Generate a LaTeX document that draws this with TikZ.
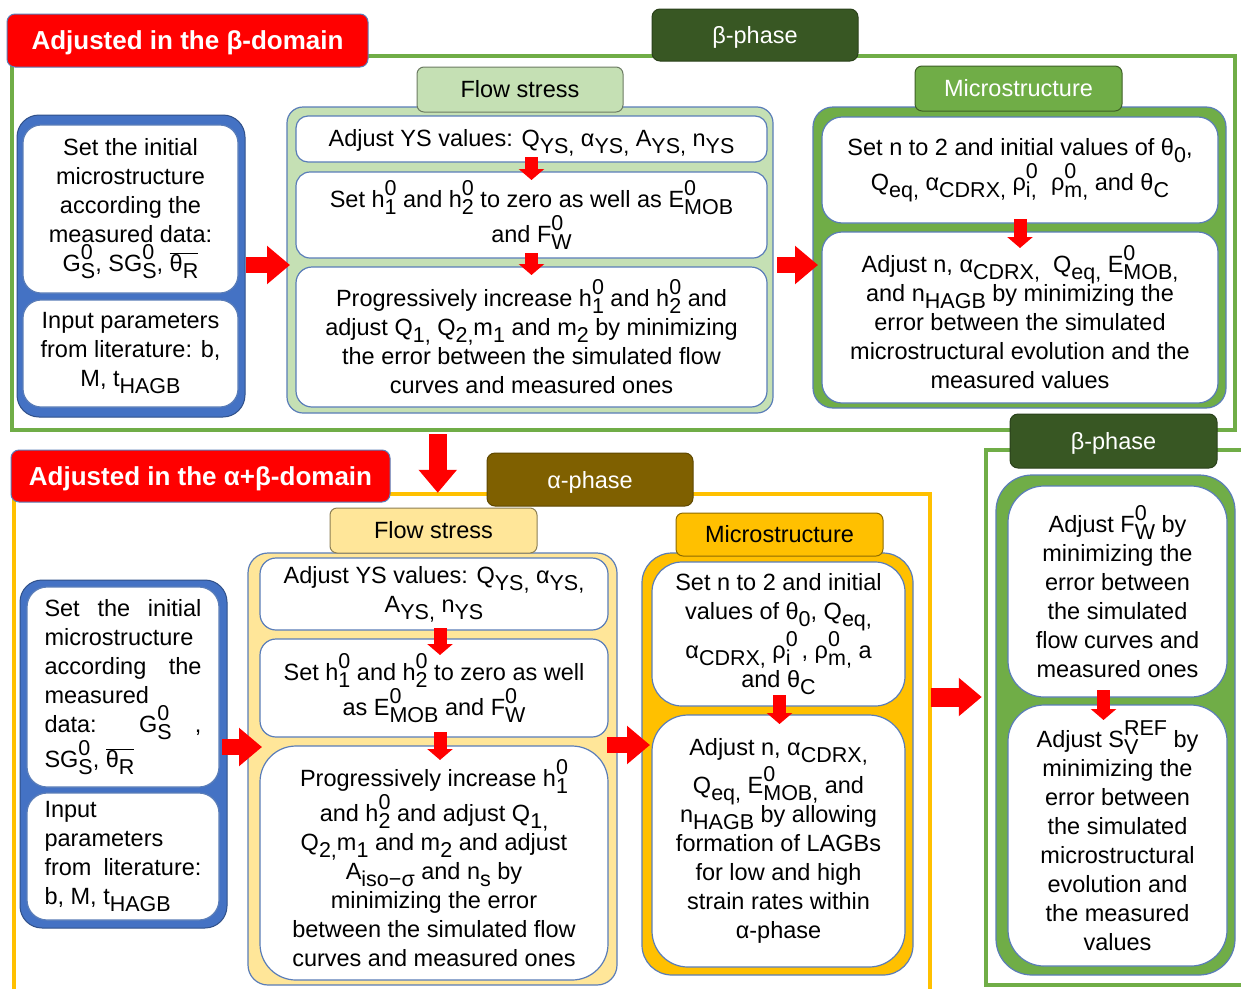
\documentclass[tikz,border=0pt]{standalone}
\usepackage{fontspec}
\setmainfont{Liberation Sans}
\usetikzlibrary{arrows.meta,calc}

\definecolor{xred}{HTML}{FF0000}
\definecolor{gframe}{HTML}{70AD47}
\definecolor{dgreen}{HTML}{385723}
\definecolor{lgreen}{HTML}{C5E0B4}
\definecolor{xblue}{HTML}{4472C4}
\definecolor{brownx}{HTML}{7F6000}
\definecolor{orangex}{HTML}{FFC000}
\definecolor{lyellow}{HTML}{FFE699}
\definecolor{edgeblue}{HTML}{5A7DB8}

% lowered / raised indices and stacked pairs
\newcommand\Lo[1]{\raisebox{-7pt}{\fontsize{21.5}{21.5}\selectfont #1}}
\newcommand\Hi[1]{\raisebox{12pt}{\fontsize{21.5}{21.5}\selectfont #1}}
\newsavebox\hibox
\newsavebox\lobox
\newcommand\HL[2]{\sbox\hibox{\Hi{#1}}\sbox\lobox{\Lo{#2}}%
  \ifdim\wd\hibox>\wd\lobox\rlap{\usebox\lobox}\usebox\hibox
  \else\rlap{\usebox\hibox}\usebox\lobox\fi}
\newcommand\thR{$\overline{\hbox{θ\Lo{R}}}$}

% a box given by its corners (x1,y1) (x2,y2): name, style, corners, text
\newcommand\bx[7]{%
  \pgfmathsetmacro\bxw{#5-#3}\pgfmathsetmacro\bxh{#6-#4}%
  \node[#2, minimum width=\bxw pt, minimum height=\bxh pt]
    (#1) at ({(#3+#5)/2},{(#4+#6)/2}) {#7};}

\tikzset{
  base/.style={inner sep=0pt, outer sep=0pt, align=center,
    font=\fontsize{23.5}{29}\selectfont},
  frame/.style={inner sep=0pt, draw=#1, line width=4.5pt},
  titlebox/.style={base, fill=xred, draw=edgeblue, line width=1pt,
    rounded corners=8pt, text=white, text height=22pt, text depth=4pt,
    font=\fontsize{26}{30}\selectfont\bfseries},
  phase/.style={base, fill=#1, draw=#1!75!black, line width=1pt,
    rounded corners=8pt, text=white, text height=20pt, text depth=3pt},
  lab/.style={base, fill=#1, draw=#1!55!black, line width=1pt, rounded corners=7pt},
  cont/.style 2 args={base, fill=#1, draw=edgeblue, line width=1.2pt, rounded corners=#2},
  bluebox/.style={base, fill=xblue, draw=xblue!70!black, line width=1pt,
    rounded corners=22pt},
  wbox/.style={base, fill=white, draw=edgeblue, line width=1.2pt, rounded corners=#1},
  wbox/.default=14pt,
  bigarrow/.style={draw=xred, line width=#1, -{Triangle[width=37pt, length=23pt]}},
  bigarrow/.default=16pt,
  smallarrow/.style={draw=xred, line width=13pt, -{Triangle[width=25pt, length=11pt]}},
}

\begin{document}
\begin{tikzpicture}[x={(1pt,0)}, y={(0,-1pt)}]
\useasboundingbox (0,0) rectangle (1241,988);
\fill[white] (0,0) rectangle (1241,988);

% domain frames
\bx{upframe}{frame=gframe}{12}{56}{1235}{430}{}
\bx{abframe}{frame=orangex}{14}{494}{930}{1010}{}
\bx{rframe}{frame=gframe}{986}{450}{1252}{985}{}

% headings
\bx{t1}{titlebox}{7}{14}{368}{67}{Adjusted in the β-domain}
\bx{t2}{titlebox}{11}{450}{390}{502}{Adjusted in the α+β-domain}
\bx{ph1}{phase=dgreen}{652}{9}{858}{61}{β-phase}
\bx{ph2}{phase=brownx}{487}{453}{693}{506}{α-phase}
\bx{ph3}{phase=dgreen}{1010}{414}{1217}{468}{β-phase}

% ---------- beta domain ----------
\bx{tb}{bluebox}{17}{115}{245}{417}{}
\bx{tb1}{wbox=18pt}{23}{125}{238}{293}
  {Set the initial\\ microstructure\\ according the\\ measured data:\\
   G\HL{0}{S}, SG\HL{0}{S}, \thR}
\bx{tb2}{wbox=18pt}{23}{300}{238}{407}
  {Input parameters\\ from literature: b,\\ M, t\Lo{HAGB}}

\bx{fc}{cont={lgreen}{16pt}}{287}{107}{773}{413}{}
\bx{fl}{lab=lgreen}{417}{67}{623}{112}{Flow stress}
\bx{f1}{wbox=12pt, text height=19pt, text depth=5pt}{296}{116}{767}{162}
  {Adjust YS values: Q\Lo{YS,} α\Lo{YS,} A\Lo{YS,} n\Lo{YS}}
\bx{f2}{wbox=14pt}{296}{172}{767}{258}
  {Set h\HL{0}{1} and h\HL{0}{2} to zero as well as E\HL{0}{MOB}\\ and F\HL{0}{W}}
\bx{f3}{wbox=16pt}{296}{267}{767}{407}
  {Progressively increase h\HL{0}{1} and h\HL{0}{2} and\\
   adjust Q\Lo{1,} Q\Lo{2,}m\Lo{1} and m\Lo{2} by minimizing\\
   the error between the simulated flow\\ curves and measured ones}

\bx{mc}{cont={gframe}{20pt}}{813}{107}{1226}{408}{}
\bx{ml}{lab=gframe, text=white}{915}{66}{1122}{111}{Microstructure}
\bx{m1}{wbox=20pt}{822}{117}{1218}{223}
  {Set n to 2 and initial values of θ\Lo{0},\\
   Q\Lo{eq,} α\Lo{CDRX,} ρ\HL{0}{i,}\ \ ρ\HL{0}{m,} and θ\Lo{C}}
\bx{m2}{wbox=20pt}{822}{232}{1218}{403}
  {Adjust n, α\Lo{CDRX,}\ \ Q\Lo{eq,} E\HL{0}{MOB,}\\
   and n\Lo{HAGB} by minimizing the\\ error between the simulated\\
   microstructural evolution and the\\ measured values}

% ---------- alpha+beta domain ----------
\bx{bb}{bluebox}{20}{580}{227}{928}{}
\bx{bb1}{wbox=20pt, align=left}{27}{587}{219}{787}
  {\makebox[157pt][s]{Set the initial}\\ microstructure\\
   \makebox[157pt][s]{according the}\\ measured\\
   \makebox[157pt][s]{data: G\HL{0}{S} ,}\\ SG\HL{0}{S}, \thR}
\bx{bb2}{wbox=20pt, align=left}{27}{793}{219}{920}
  {Input\\ parameters\\ \makebox[157pt][s]{from literature:}\\ b, M, t\Lo{HAGB}}

\bx{bfc}{cont={lyellow}{20pt}}{248}{553}{617}{985}{}
\bx{bfl}{lab=lyellow}{330}{508}{537}{553}{Flow stress}
\bx{bf1}{wbox=16pt}{260}{558}{608}{630}
  {Adjust YS values: Q\Lo{YS,} α\Lo{YS,}\\ A\Lo{YS,} n\Lo{YS}}
\bx{bf2}{wbox=16pt}{260}{639}{608}{737}
  {Set h\HL{0}{1} and h\HL{0}{2} to zero as well\\ as E\HL{0}{MOB} and F\HL{0}{W}}
\bx{bf3}{wbox=36pt}{260}{746}{608}{980}
  {Progressively increase h\HL{0}{1}\\ and h\HL{0}{2} and adjust Q\Lo{1,}\\
   Q\Lo{2,}m\Lo{1} and m\Lo{2} and adjust\\ A\Lo{iso−σ} and n\Lo{s} by\\
   minimizing the error\\ between the simulated flow\\ curves and measured ones}

\bx{bmc}{cont={orangex}{30pt}}{642}{553}{913}{975}{}
\bx{bml}{lab=orangex}{676}{513}{883}{556}{Microstructure}
\bx{bm1}{wbox=30pt}{652}{562}{905}{706}
  {Set n to 2 and initial\\ values of θ\Lo{0}, Q\Lo{eq,}\\
   α\Lo{CDRX,} ρ\HL{0}{i}\,,\ ρ\HL{0}{m,} a\\ and θ\Lo{C}}
\bx{bm2}{wbox=36pt}{652}{715}{905}{967}
  {Adjust n, α\Lo{CDRX,}\\ Q\Lo{eq,} E\HL{0}{MOB,} and\\ n\Lo{HAGB} by allowing\\
   formation of LAGBs\\ for low and high\\ strain rates within\\ α-phase}

\bx{rc}{cont={gframe}{36pt}}{996}{475}{1235}{975}{}
\bx{r1}{wbox=36pt}{1008}{486}{1227}{697}
  {Adjust F\HL{0}{W} by\\ minimizing the\\ error between\\ the simulated\\
   flow curves and\\ measured ones}
\bx{r2}{wbox=36pt}{1008}{705}{1227}{966}
  {Adjust S\HL{REF}{V} by\\ minimizing the\\ error between\\ the simulated\\
   microstructural\\ evolution and\\ the measured\\ values}

% ---------- connectors ----------
\draw[bigarrow] ($(tb.east)+(1,-1)$) -- ($(tb.east -| fc.west)+(3,-1)$);
\draw[bigarrow] ($(fc.east)+(4,5)$) -- ($(fc.east -| mc.west)+(5,5)$);
\draw[bigarrow=18pt] ($(upframe.south west)+(428,2)$) -- ($(abframe.north west)+(426,1)$);
\draw[bigarrow] ($(bb.east)+(-5,-7)$) -- ($(bb.east -| bfc.west)+(14,-7)$);
\draw[bigarrow] ($(bfc.east)+(-10,-24)$) -- ($(bfc.east -| bmc.west)+(8,-24)$);
\draw[bigarrow=19pt] ($(bmc.east)+(18,-67)$) -- ($(bmc.east -| rframe.west)+(-2,-67)$);

\draw[smallarrow] ($(f1.south)+(0,-5)$) -- ($(f2.north)+(0,8)$);
\draw[smallarrow] ($(f2.south)+(0,-5)$) -- ($(f3.north)+(0,8)$);
\draw[smallarrow] ($(m1.south)+(0,-4)$) -- ($(m2.north)+(0,16)$);
\draw[smallarrow] ($(bf1.south)+(6,-2)$) -- ($(bf2.north)+(6,16)$);
\draw[smallarrow] ($(bf2.south)+(6,-5)$) -- ($(bf3.north)+(6,14)$);
\draw[smallarrow] ($(bm1.south)+(1,-11)$) -- ($(bm2.north)+(1,9)$);
\draw[smallarrow] ($(r1.south)+(-14,-7)$) -- ($(r2.north)+(-14,15)$);
\end{tikzpicture}
\end{document}
